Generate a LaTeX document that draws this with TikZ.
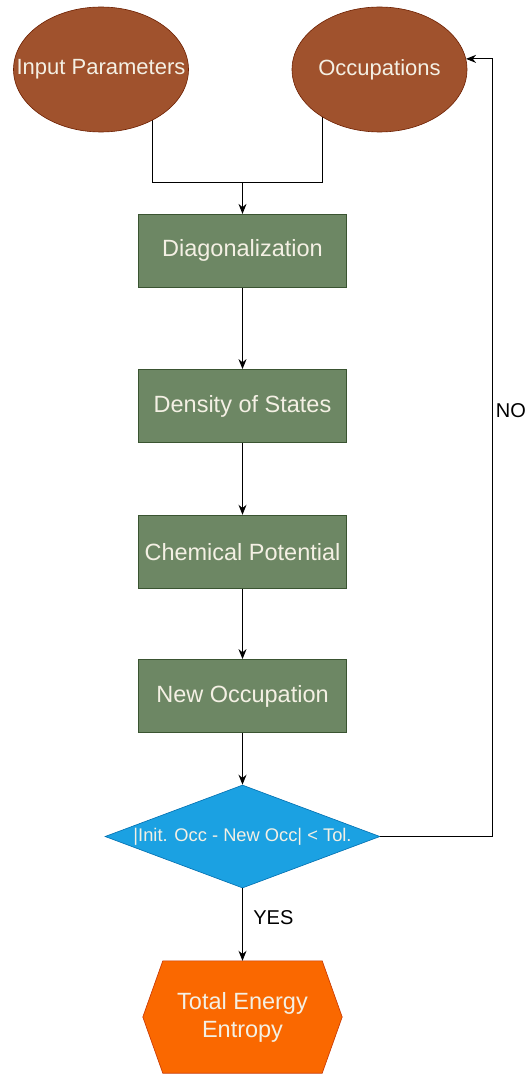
\documentclass[tikz,border=0pt]{standalone}
\usepackage{fontspec}
\setmainfont{Liberation Sans}
\usetikzlibrary{shapes.geometric,arrows.meta,backgrounds}
\definecolor{brownfill}{HTML}{A0522D}
\definecolor{brownline}{HTML}{6D1F00}
\definecolor{greenfill}{HTML}{6D8764}
\definecolor{greenline}{HTML}{3A5431}
\definecolor{bluefill}{HTML}{1BA1E2}
\definecolor{blueline}{HTML}{006EAF}
\definecolor{orangefill}{HTML}{FA6800}
\definecolor{orangeline}{HTML}{C73500}
\definecolor{lighttext}{HTML}{F4F0E4}
\tikzset{
  oval/.style={ellipse, fill=brownfill, draw=brownline, line width=0.6pt,
    minimum width=175pt, minimum height=125pt, inner sep=0pt},
  ovaltext/.style={text=lighttext, font=\fontsize{22}{27}\selectfont},
  procbox/.style={rectangle, fill=greenfill, draw=greenline, line width=0.8pt,
    minimum width=208pt, minimum height=73pt, inner sep=0pt,
    text=lighttext, font=\fontsize{23.5}{28}\selectfont},
  decision/.style={diamond, fill=bluefill, draw=blueline, line width=0.6pt,
    minimum width=275pt, minimum height=103pt, inner sep=0pt, aspect=2.67,
    text=lighttext, font=\fontsize{18.3}{22}\selectfont},
  hexnode/.style={rectangle, minimum width=199pt, minimum height=112pt, inner sep=0pt,
    align=center, text=lighttext, font=\fontsize{23.5}{28}\selectfont},
  arr/.style={draw=black, line width=1pt, -{Stealth[length=10pt,width=8pt]}},
  conn/.style={draw=black, line width=1pt},
  lbl/.style={font=\fontsize{20}{24}\selectfont, text=black}
}
\begin{document}
\begin{tikzpicture}[x=1pt, y=-1pt]
\useasboundingbox (0,0) rectangle (528,1075);

\node[oval, label={[ovaltext]center:Input Parameters}] (e1) at (101,69.5) {};
\node[oval, label={[ovaltext]center:Occupations}] (e2) at (379.5,69.5) {};

\node[procbox] (d1) at (242.5,250.8) {Diagonalization};
\node[procbox] (d2) at (242.5,406) {Density of States};
\node[procbox] (d3) at (242.5,551.7) {Chemical Potential};
\node[procbox] (d4) at (242.5,696) {New Occupation};

\node[decision] (dec) at (242.5,836.5) {|Init. Occ - New Occ| < Tol.};

\node[hexnode] (out) at (242.5,1017) {Total Energy\\Entropy};

\begin{scope}[on background layer]
  \fill[orangefill, draw=orangeline, line width=0.6pt]
    (out.west) -- ([xshift=20pt]out.north west) -- ([xshift=-20pt]out.north east)
    -- (out.east) -- ([xshift=-20pt]out.south east) -- ([xshift=20pt]out.south west) -- cycle;
  \coordinate (j) at (242.5,183);
  \draw[conn] ([xshift=51pt]e1.center) |- (j);
  \draw[conn] ([xshift=-57pt]e2.center) |- (j);
\end{scope}

\draw[arr] (j) -- (d1.north);
\draw[arr] (d1) -- (d2);
\draw[arr] (d2) -- (d3);
\draw[arr] (d3) -- (d4);
\draw[arr] (d4) -- (dec.north);
\draw[arr] (dec.south) -- node[lbl, right, pos=0.4, xshift=7pt] {YES} (out.north);
\draw[arr] (dec.east) -| node[lbl, right, pos=0.774] {NO} ([xshift=26pt]e2.7) -- (e2.7);
\end{tikzpicture}
\end{document}
